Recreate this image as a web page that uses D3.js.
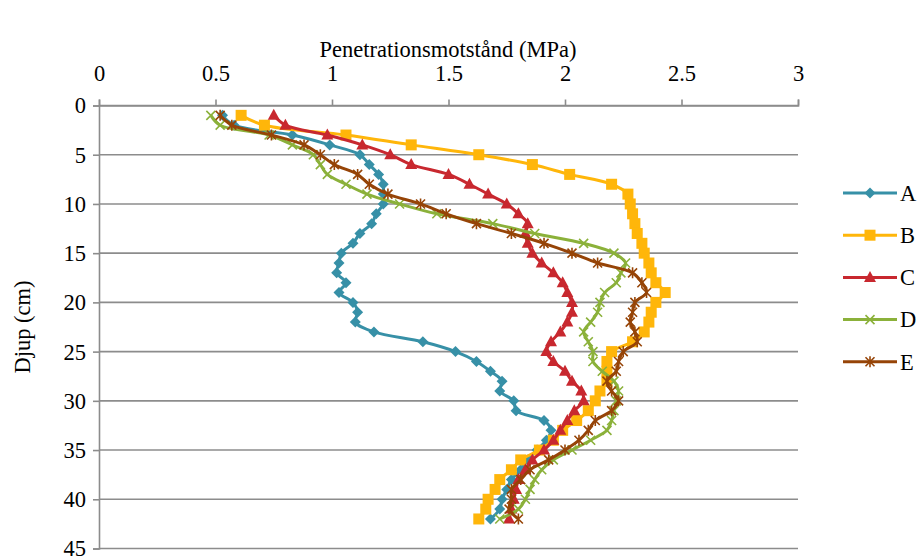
<!DOCTYPE html>
<html><head><meta charset="utf-8">
<script src="https://cdn.jsdelivr.net/npm/d3@7"></script>
<style>body{margin:0;background:#fff}svg{display:block}svg text{font-family:"Liberation Serif","Times New Roman","DejaVu Serif",serif !important;fill:#000}</style>
</head><body><svg id="c" width="920" height="558"></svg>
<script>
const depths = d3.range(1, 43);
const seriesNames = ["A","B","C","D","E"];
const A = [0.53,0.58,0.83,0.99,1.12,1.16,1.20,1.22,1.22,1.22,1.19,1.17,1.12,1.09,1.04,1.03,1.02,1.06,1.03,1.09,1.11,1.10,1.18,1.39,1.53,1.62,1.68,1.73,1.72,1.78,1.79,1.91,1.94,1.92,1.88,1.84,1.81,1.77,1.75,1.73,1.72,1.68];
const B = [0.61,0.71,1.06,1.34,1.63,1.86,2.02,2.20,2.27,2.28,2.29,2.30,2.31,2.33,2.34,2.36,2.37,2.39,2.43,2.39,2.37,2.36,2.34,2.29,2.20,2.18,2.18,2.18,2.15,2.13,2.10,2.05,1.99,1.95,1.89,1.81,1.77,1.72,1.70,1.67,1.66,1.63];
const C = [0.75,0.80,0.98,1.13,1.25,1.34,1.50,1.59,1.67,1.75,1.80,1.84,1.83,1.84,1.86,1.90,1.95,1.99,2.01,2.03,2.03,2.01,1.98,1.94,1.92,1.95,2.00,2.03,2.07,2.08,2.04,2.01,1.98,1.95,1.91,1.86,1.83,1.80,1.79,1.78,1.77,1.76];
const D = [0.48,0.52,0.73,0.83,0.92,0.95,0.98,1.06,1.15,1.29,1.45,1.69,1.87,2.08,2.21,2.26,2.24,2.22,2.17,2.15,2.14,2.11,2.08,2.10,2.12,2.12,2.16,2.21,2.23,2.22,2.21,2.20,2.18,2.11,2.03,1.95,1.90,1.87,1.85,1.83,1.80,1.72];
const E = [0.52,0.57,0.74,0.88,0.95,1.01,1.11,1.16,1.24,1.38,1.49,1.62,1.77,1.91,2.03,2.14,2.29,2.33,2.35,2.30,2.29,2.28,2.30,2.31,2.25,2.23,2.22,2.18,2.20,2.23,2.20,2.13,2.10,2.06,2.00,1.93,1.85,1.81,1.77,1.77,1.76,1.80];
const xTicks = [0,0.5,1,1.5,2,2.5,3];
const yTicks = [0,5,10,15,20,25,30,35,40,45];
const colors = ["#3790A7","#FFB60A","#C8282F","#8BB13A","#964407"];
const values = [A,B,C,D,E];
const FS = "22.5px";

const svg = d3.select("#c");
const x = d3.scaleLinear().domain([0,3]).range([99,798]);
const y = d3.scaleLinear().domain([0,45]).range([105.5,548.5]);

svg.append("g").selectAll("line").data(yTicks).join("line")
  .attr("x1",99).attr("x2",798).attr("y1",d=>y(d)).attr("y2",d=>y(d))
  .attr("stroke","#8c8c8c").attr("stroke-width",1.6);

const xAxis = svg.append("g").attr("transform",`translate(0,${y(0)})`)
  .call(d3.axisTop(x).tickValues(xTicks).tickSize(6).tickPadding(19).tickFormat(d3.format("")));
xAxis.attr("font-family",null);
xAxis.select(".domain").attr("stroke","#8c8c8c").attr("stroke-width",1.6);
xAxis.selectAll(".tick line").attr("stroke","#8c8c8c").attr("stroke-width",1.6);
xAxis.selectAll("text").style("font-size",FS);

const yAxis = svg.append("g").attr("transform",`translate(${x(0)},0)`)
  .call(d3.axisLeft(y).tickValues(yTicks).tickSize(6).tickPadding(7));
yAxis.attr("font-family",null);
yAxis.select(".domain").attr("stroke","#8c8c8c").attr("stroke-width",1.6);
yAxis.selectAll(".tick line").attr("stroke","#8c8c8c").attr("stroke-width",1.6);
yAxis.selectAll("text").style("font-size",FS).attr("dy","0.33em");

svg.append("text").attr("x",448).attr("y",57).attr("text-anchor","middle")
  .style("font-size",FS).text("Penetrationsmotstånd (MPa)");
svg.append("text").attr("transform","translate(30,327) rotate(-90)").attr("text-anchor","middle")
  .style("font-size",FS).text("Djup (cm)");

function marker(g, i, cx, cy, col){
  if(i===0){
    g.append("path").attr("d",`M${cx},${cy-5.5}L${cx+5.5},${cy}L${cx},${cy+5.5}L${cx-5.5},${cy}Z`).attr("fill",col);
  } else if(i===1){
    g.append("rect").attr("x",cx-5.5).attr("y",cy-5.5).attr("width",11).attr("height",11).attr("fill",col);
  } else if(i===2){
    g.append("path").attr("d",`M${cx},${cy-6.5}L${cx+6},${cy+4.5}L${cx-6},${cy+4.5}Z`).attr("fill",col);
  } else if(i===3){
    g.append("path").attr("d",`M${cx-4.5},${cy-4.5}L${cx+4.5},${cy+4.5}M${cx-4.5},${cy+4.5}L${cx+4.5},${cy-4.5}`).attr("stroke",col).attr("stroke-width",1.6).attr("fill","none");
  } else {
    g.append("path").attr("d",`M${cx-4.5},${cy-4.5}L${cx+4.5},${cy+4.5}M${cx-4.5},${cy+4.5}L${cx+4.5},${cy-4.5}M${cx},${cy-5.5}L${cx},${cy+5.5}`).attr("stroke",col).attr("stroke-width",1.6).attr("fill","none");
  }
}

const line = d3.line().x(d=>x(d[0])).y(d=>y(d[1])).curve(d3.curveCatmullRom.alpha(0.5));
values.forEach((vals,i)=>{
  const pts = vals.map((v,k)=>[v,depths[k]]);
  const g = svg.append("g");
  g.append("path").attr("d",line(pts)).attr("fill","none").attr("stroke",colors[i]).attr("stroke-width",3).attr("stroke-linejoin","round");
  pts.forEach(p=>marker(g,i,x(p[0]),y(p[1]),colors[i]));
});

const leg = svg.append("g");
seriesNames.forEach((n,i)=>{
  const ly = 193 + i*42.2;
  leg.append("line").attr("x1",843).attr("x2",897).attr("y1",ly).attr("y2",ly).attr("stroke",colors[i]).attr("stroke-width",3);
  marker(leg,i,870,ly,colors[i]);
  leg.append("text").attr("x",900).attr("y",ly).attr("dy","0.35em").style("font-size",FS).text(n);
});
</script></body></html>
